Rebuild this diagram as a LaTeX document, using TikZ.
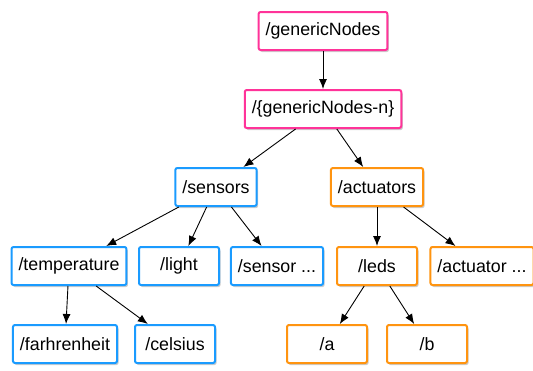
\documentclass[tikz,border=0pt]{standalone}
\usepackage{fontspec}
\setmainfont{Liberation Sans}
\usetikzlibrary{arrows.meta,shadows}
\definecolor{pinkline}{HTML}{FF3399}
\definecolor{blueline}{HTML}{1A9BFF}
\definecolor{orangeline}{HTML}{FF9410}
\begin{document}
\begin{tikzpicture}[x=1pt,y=-1pt,
    box/.style={rectangle,rounded corners=2pt,fill=white,line width=2pt,
      minimum width=80pt,minimum height=38pt,inner xsep=7pt,
      font=\fontsize{17.8}{20}\selectfont,
      drop shadow={shadow xshift=1.5pt,shadow yshift=-2pt,opacity=0.4}},
    pinkbox/.style={box,draw=pinkline},
    bluebox/.style={box,draw=blueline},
    orangebox/.style={box,draw=orangeline},
    link/.style={-{Latex[length=10pt,width=8pt]},line width=0.9pt}]

    \useasboundingbox (0,0) rectangle (533,370);

    \node[pinkbox] (gn) at (323,31) {/genericNodes};
    \node[pinkbox] (gnn) at (323,109) {/\{genericNodes-n\}};

    \node[bluebox] (sensors) at (216,187) {/sensors};
    \node[orangebox] (actuators) at (377,187) {/actuators};

    \node[bluebox] (temperature) at (69,266) {/temperature};
    \node[bluebox] (light) at (179,266) {/light};
    \node[bluebox] (sensorx) at (277,266) {/sensor ...};
    \node[orangebox] (leds) at (377,266) {/leds};
    \node[orangebox] (actuatorx) at (482,266) {/actuator ...};

    \node[bluebox] (farhrenheit) at (65,344) {/farhrenheit};
    \node[bluebox] (celsius) at (175,344) {/celsius};
    \node[orangebox] (a) at (327,344) {/a};
    \node[orangebox] (b) at (427,344) {/b};

    \draw[link] (gn) -- (gnn);
    \draw[link] (gnn) -- (sensors);
    \draw[link] (gnn) -- (actuators);
    \draw[link] (sensors) -- (temperature);
    \draw[link] (sensors) -- (light);
    \draw[link] (sensors) -- (sensorx);
    \draw[link] (actuators) -- (leds);
    \draw[link] (actuators) -- (actuatorx);
    \draw[link] (temperature) -- (farhrenheit);
    \draw[link] (temperature) -- (celsius);
    \draw[link] (leds) -- (a);
    \draw[link] (leds) -- (b);
\end{tikzpicture}
\end{document}
